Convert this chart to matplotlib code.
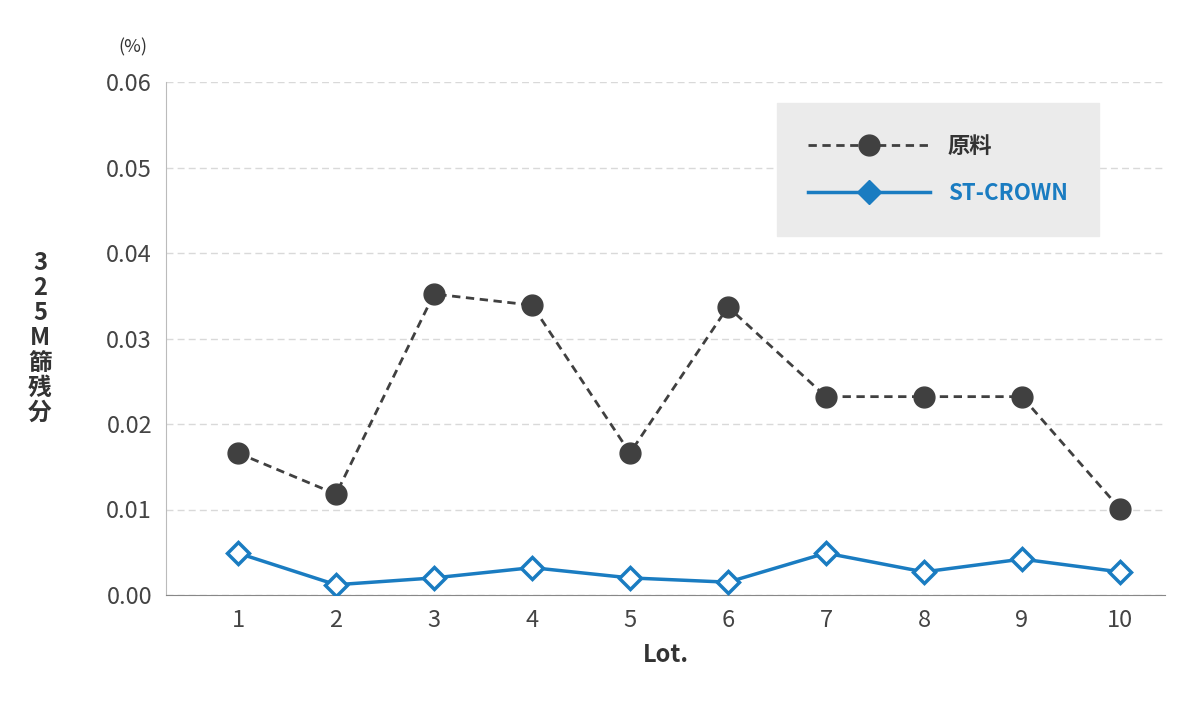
import matplotlib.pyplot as plt
from matplotlib.lines import Line2D

plt.rcParams['font.family'] = ['Noto Sans CJK JP', 'DejaVu Sans']

lots = [1, 2, 3, 4, 5, 6, 7, 8, 9, 10]
raw = [0.0166, 0.0118, 0.0352, 0.0339, 0.0166, 0.0337, 0.0232, 0.0232, 0.0232, 0.0101]
st_crown = [0.0049, 0.0012, 0.0020, 0.0032, 0.0020, 0.0015, 0.0049, 0.0027, 0.0042, 0.0027]
yticks = [0.00, 0.01, 0.02, 0.03, 0.04, 0.05, 0.06]

fig = plt.figure(figsize=(12, 7.08), dpi=100)
ax = fig.add_axes([166 / 1200, 1 - 595 / 708, (1165 - 166) / 1200, (595 - 82) / 708])

dark = '#404040'
blue = '#1a7cc1'
ax.plot(lots, raw, linestyle=(0, (3, 2)), color=dark, lw=2,
        marker='o', markersize=15, markerfacecolor=dark, markeredgecolor=dark, zorder=3)
ax.plot(lots, st_crown, color=blue, lw=2.5,
        marker='D', markersize=11, markerfacecolor='white', markeredgecolor=blue,
        markeredgewidth=2.5, zorder=3)

ax.set_xlim(0.265, 10.46)
ax.set_ylim(0, 0.06)
ax.set_xticks(lots)
ax.set_yticks(yticks)
ax.set_yticklabels([f'{v:.2f}' for v in yticks])
ax.tick_params(axis='both', length=0, labelsize=17, colors='#444444', pad=10)
ax.grid(axis='y', color='#d9d9d9', linestyle=(0, (5, 3)), lw=1)
for s in ['top', 'right']:
    ax.spines[s].set_visible(False)
ax.spines['left'].set_color('#bbbbbb')
ax.spines['bottom'].set_color('#888888')

ax.set_xlabel('Lot.', fontsize=17, fontweight='bold', color='#333333', labelpad=8)
fig.text(40 / 1200, 1 - 338 / 708, '3\n2\n5\nM\n篩\n残\n分', ha='center', va='center',
         fontsize=17, fontweight='bold', color='#333333', linespacing=1.05)
fig.text(133 / 1200, 1 - 47 / 708, '(%)', ha='center', va='center', fontsize=13, color='#333333')

handles = [
    Line2D([], [], linestyle=(0, (3, 2)), color=dark, lw=2, marker='o', markersize=15,
           markerfacecolor=dark, markeredgecolor=dark),
    Line2D([], [], color=blue, lw=2.5, marker='D', markersize=12,
           markerfacecolor=blue, markeredgecolor=blue),
]
leg = ax.legend(handles, ['原料', 'ST-CROWN'], loc='upper right', bbox_to_anchor=(0.945, 0.98),
                frameon=True, fontsize=16, handlelength=5.5, borderpad=1.4, labelspacing=1.1,
                fancybox=False)
leg.get_frame().set_facecolor('#ebebeb')
leg.get_frame().set_edgecolor('#ebebeb')
leg.get_frame().set_alpha(1)
leg.get_texts()[0].set_color('#333333')
leg.get_texts()[1].set_color(blue)
for t in leg.get_texts():
    t.set_fontweight('bold')

fig.savefig('out.png', dpi=100)
